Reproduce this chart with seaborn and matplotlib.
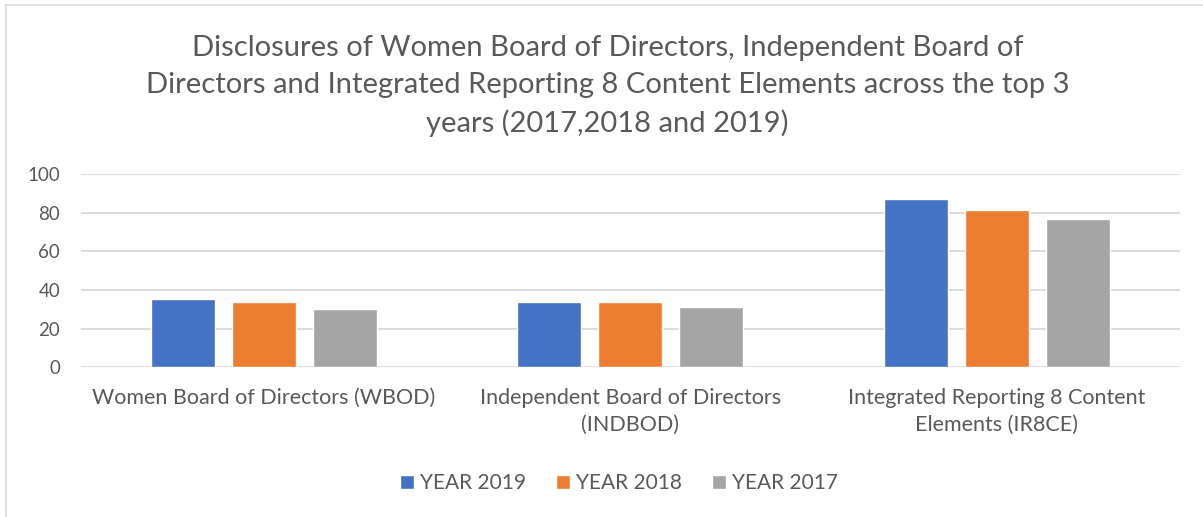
import pandas as pd
import seaborn as sns
import matplotlib.pyplot as plt
from matplotlib.lines import Line2D

categories = ['Women Board of Directors (WBOD)',
              'Independent Board of Directors\n(INDBOD)',
              'Integrated Reporting 8 Content\nElements (IR8CE)']
series = ['YEAR 2019', 'YEAR 2018', 'YEAR 2017']
year_2019 = [35.4, 34.0, 86.9]
year_2018 = [34.0, 34.0, 81.2]
year_2017 = [29.9, 31.4, 77.0]
y_ticks = [0, 20, 40, 60, 80, 100]

df = pd.DataFrame({
    'category': categories * 3,
    'series': [s for s in series for _ in categories],
    'value': year_2019 + year_2018 + year_2017,
})

sns.set_style('white')
plt.rcParams['font.family'] = ['Lato', 'DejaVu Sans']
text_color = '#595959'

fig = plt.figure(figsize=(12.03, 5.17), dpi=100)
ax = fig.add_axes([0.0673, 0.290, 0.9135, 0.373])

sns.barplot(data=df, x='category', y='value', hue='series', order=categories, hue_order=series,
            palette=['#4472C4', '#ED7D31', '#A5A5A5'], width=0.663, gap=0.21, ax=ax,
            errorbar=None, saturation=1, legend=True)

ax.set_xlim(-0.5, 2.5)
ax.set_ylim(0, 100)
ax.set_yticks(y_ticks)
ax.yaxis.grid(True, color='#D9D9D9', linewidth=1.3)
ax.set_axisbelow(True)
for s in ax.spines.values():
    s.set_visible(False)
ax.tick_params(axis='both', length=0, colors=text_color, labelsize=13.5)
ax.tick_params(axis='x', pad=15, labelsize=15.5)
ax.tick_params(axis='y', pad=15)
for lbl in ax.get_xticklabels():
    lbl.set_linespacing(1.42)
ax.set_xlabel('')
ax.set_ylabel('')

ax.legend(loc='center', bbox_to_anchor=(619 / 1203, 1 - 483 / 517), bbox_transform=fig.transFigure, ncol=3,
          frameon=False, fontsize=15, labelcolor=text_color, handlelength=0.65,
          handleheight=0.65, handletextpad=0.3, columnspacing=1.45)

fig.text(0.505, 0.834,
         'Disclosures of Women Board of Directors, Independent Board of\n'
         'Directors and Integrated Reporting 8 Content Elements across the top 3\n'
         'years (2017,2018 and 2019)',
         ha='center', va='center', fontsize=21, color=text_color, linespacing=1.5)

fig.add_artist(Line2D([5 / 1203, 1], [1 - 4.5 / 517, 1 - 4.5 / 517], color='#D9D9D9', linewidth=1.2))
fig.add_artist(Line2D([5.5 / 1203, 5.5 / 1203], [0, 1 - 4.5 / 517], color='#D9D9D9', linewidth=1.2))

fig.savefig('out.png', dpi=100, facecolor='white')
